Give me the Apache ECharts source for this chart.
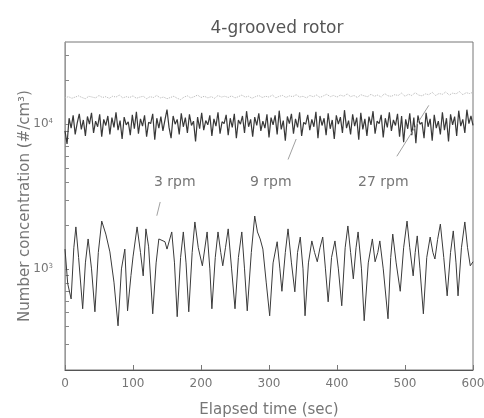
<!DOCTYPE html>
<html>
<head>
<meta charset="utf-8">
<script src="https://cdn.jsdelivr.net/npm/echarts@6/dist/echarts.min.js"></script>
<style>
  html, body { margin: 0; padding: 0; background: #fff; }
  #chart { width: 484px; height: 418px; }
</style>
</head>
<body>
<div id="chart"></div>
<script>
// 3 rpm: read at turning points (sec, #/cm3)
const rpm3Time = [0, 4, 9, 13, 16, 20, 26, 30, 34, 39, 44, 49, 54, 60, 66, 72, 78, 83, 88, 92,
  97, 100, 106, 111, 115, 119, 123, 129, 134, 138, 147, 150, 157, 161, 165, 170, 174, 178, 182, 187,
  191, 196, 202, 209, 213, 216, 221, 225, 229, 232, 236, 240, 245, 250, 255, 260, 264, 268, 274, 279,
  283, 287, 291, 296, 301, 306, 312, 316, 319, 324, 328, 333, 338, 342, 346, 350, 353, 358, 363, 367,
  371, 375, 379, 383, 387, 392, 397, 402, 407, 412, 416, 420, 424, 428, 431, 436, 440, 446, 452, 456,
  460, 463, 468, 475, 479, 482, 487, 493, 498, 503, 507, 512, 515, 518, 522, 527, 532, 537, 541, 544,
  548, 552, 557, 562, 567, 571, 575, 578, 583, 588, 592, 596, 600]
const rpm3Values = [1370, 790, 620, 1400, 1950, 1200, 530, 1100, 1610, 1000, 505, 1300, 2140, 1740, 1310, 810, 404, 1000, 1370, 513,
  900, 1210, 1950, 1300, 895, 1890, 1420, 489, 1100, 1610, 1540, 1370, 1800, 1100, 467, 1200, 1800, 1100, 505, 1300,
  2110, 1400, 1050, 1800, 1000, 530, 1200, 1800, 1300, 1050, 1400, 1890, 1000, 530, 1200, 1800, 1000, 513, 1300, 2320,
  1800, 1610, 1370, 800, 474, 1100, 1540, 1000, 700, 1300, 1890, 1100, 694, 1300, 1660, 1000, 474, 1100, 1560, 1300,
  1120, 1400, 1660, 1000, 592, 1200, 1560, 1000, 556, 1400, 1980, 1300, 853, 1400, 1800, 1000, 438, 1100, 1610, 1120,
  1300, 1560, 1000, 452, 1200, 1740, 1100, 700, 1400, 2140, 1400, 895, 1300, 1690, 1000, 489, 1200, 1660, 1300, 1170,
  1600, 2040, 1200, 651, 1300, 1830, 1100, 651, 1400, 2110, 1400, 1050, 1120]

// 9 rpm: sampled every 3 sec
const rpm9Step = 3
const rpm9Values = [
  9000, 7300, 11000, 9400, 11500, 8500, 10200, 11800, 9200, 10700, 8300, 11300, 10000, 12000, 8700, 10500, 9600, 11700, 8200, 10800,
  9800, 11400, 8500, 11100, 9500, 12100, 9100, 10600, 7900, 11200, 9900, 10400, 8400, 11600, 9300, 12200, 8600, 10900, 9700, 11500,
  8200, 10300, 10100, 11800, 7800, 11000, 9400, 11300, 9000, 10700, 12600, 9500, 8000, 11400, 10000, 10800, 8500, 11900, 9600, 11100,
  8700, 11700, 9800, 10500, 7600, 11200, 9300, 12000, 9100, 10600, 9900, 11500, 8300, 10900, 9700, 12100, 8600, 10400, 10100, 11600,
  8400, 11000, 9500, 11800, 8000, 10700, 10000, 11400, 8700, 12300, 9600, 10800, 8200, 11200, 9800, 11900, 9000, 10500, 9400, 11700,
  8100, 11100, 9900, 11500, 8500, 12400, 9200, 10600, 7700, 11300, 10100, 11800, 8600, 10900, 9500, 12100, 8300, 10300, 10000, 11600,
  9100, 10800, 9600, 12200, 8000, 11400, 9800, 11000, 8400, 11900, 9300, 10700, 7900, 11500, 10000, 11200, 8700, 12500, 9400, 10600,
  8500, 11700, 9700, 11100, 7800, 12000, 9200, 10900, 8300, 11300, 9900, 12300, 8600, 10500, 10100, 11600, 8100, 11000, 9500, 12100,
  9000, 10700, 9800, 11800, 8200, 11400, 7500, 10800, 9300, 11900, 8400, 11100, 7400, 11500, 10000, 10300, 8000, 12000, 9600, 10900,
  7700, 11600, 9400, 10500, 8500, 12100, 9100, 11000, 7600, 11700, 9900, 11300, 8300, 12400, 9700, 10800, 8700, 12600, 10100, 11400,
  9800]

// 27 rpm: sampled every 5 sec
const rpm27Step = 5
const rpm27Values = [
  15200, 15500, 15100, 15400, 15700, 15300, 15000, 15600, 15400, 15200, 15800, 15300, 15500, 15100, 15600, 15400, 15900, 15200, 15500, 15300,
  15700, 15100, 15400, 15600, 15000, 15500, 15300, 15800, 15200, 15400, 15000, 15300, 15600, 15100, 14800, 15400, 15700, 15200, 15500, 15900,
  15300, 15600, 15200, 15500, 15100, 15800, 15400, 15600, 15300, 15700, 15200, 15500, 15900, 15400, 15600, 15100, 15500, 15800, 15300, 15600,
  15400, 15900, 15200, 15600, 15800, 15300, 15700, 15500, 16000, 15400, 15600, 15200, 15800, 15500, 15900, 15300, 15700, 16100, 15500, 15800,
  15400, 15900, 15600, 16200, 15500, 15800, 15300, 16000, 15700, 15500, 16100, 15600, 15900, 15400, 16300, 15700, 15600, 16000, 15800, 16400,
  15600, 16100, 15800, 16500, 15900, 15700, 16200, 16000, 16600, 15800, 16300, 16100, 16700, 15900, 16400, 16200, 16800, 16000, 16500, 16300,
  16600]

const xTicks = [0, 100, 200, 300, 400, 500, 600]
const yLabelValues = [1000, 10000]
const yTickValues = [300, 400, 500, 600, 700, 800, 900, 1000, 2000, 3000, 4000, 5000, 6000, 7000, 8000, 9000, 10000, 20000, 30000]

// leader lines from the labels to the curves [sec, value]
const leader3 = [[140, 2900], [135, 2330]]
const leader9 = [[328, 5700], [340, 7900]]
const leader27 = [[488, 6000], [535, 13500]]

const FONT = 'DejaVu Sans, Liberation Sans, sans-serif'
const TEXT_GREY = '#767676'

const chart = echarts.init(document.getElementById('chart'))

const leaderLine = (pts) => ({
  silent: true,
  symbol: 'none',
  label: {show: false},
  lineStyle: {color: '#a0a0a0', width: 1, type: 'solid'},
  data: [[{coord: pts[0]}, {coord: pts[1]}]]
})

const rpmLabel = (text, left) => ({
  type: 'text', left: left, top: 175,
  style: {text: text, fontSize: 14, fill: TEXT_GREY, fontFamily: FONT}
})

const option = {
  animation: false,
  textStyle: {fontFamily: FONT},
  title: {
    text: '4-grooved rotor',
    left: 272,
    top: 15,
    textAlign: 'center',
    textStyle: {fontSize: 17, fontWeight: 'normal', color: '#555', fontFamily: FONT}
  },
  grid: {
    left: 65, right: 11, top: 42, bottom: 48,
    show: true, borderColor: '#777', borderWidth: 1,
    outerBoundsMode: 'none'
  },
  xAxis: {
    type: 'value',
    min: 0, max: 600, interval: 100,
    name: 'Elapsed time (sec)',
    nameLocation: 'middle',
    nameGap: 33,
    nameMoveOverlap: false,
    nameTextStyle: {fontSize: 15, color: TEXT_GREY, fontFamily: FONT},
    axisLine: {show: true, lineStyle: {color: '#555'}},
    axisTick: {show: true, inside: true, length: 5, lineStyle: {color: '#777'}},
    axisLabel: {fontSize: 12, color: TEXT_GREY, margin: 8, fontFamily: FONT,
      formatter: v => xTicks.includes(v) ? String(v) : ''},
    splitLine: {show: false}
  },
  yAxis: {
    type: 'log',
    min: 200, max: 37000,
    name: 'Number concentration (#/cm³)',
    nameLocation: 'middle',
    nameGap: 32,
    nameMoveOverlap: false,
    nameTextStyle: {fontSize: 15, color: TEXT_GREY, fontFamily: FONT},
    axisLine: {show: true, lineStyle: {color: '#999'}},
    axisTick: {show: true, inside: true, length: 4, customValues: yTickValues, lineStyle: {color: '#888'}},
    axisLabel: {
      customValues: yLabelValues,
      margin: 12,
      formatter: v => '{b|10}{s|' + Math.round(Math.log10(v)) + '}',
      rich: {
        b: {fontSize: 12, color: TEXT_GREY, fontFamily: FONT},
        s: {fontSize: 7, color: TEXT_GREY, verticalAlign: 'top', padding: [0, 0, 6, 0], fontFamily: FONT}
      }
    },
    splitLine: {show: false},
    minorTick: {show: false}
  },
  graphic: [
    rpmLabel('3 rpm', 154),
    rpmLabel('9 rpm', 250),
    rpmLabel('27 rpm', 358)
  ],
  series: [
    {
      name: '27 rpm',
      type: 'line',
      showSymbol: false,
      lineStyle: {color: '#b5b5b5', width: 1, type: 'dotted'},
      data: rpm27Values.map((v, i) => [i * rpm27Step, v]),
      markLine: leaderLine(leader27)
    },
    {
      name: '9 rpm',
      type: 'line',
      showSymbol: false,
      lineStyle: {color: '#383838', width: 1.2},
      data: rpm9Values.map((v, i) => [i * rpm9Step, v]),
      markLine: leaderLine(leader9)
    },
    {
      name: '3 rpm',
      type: 'line',
      showSymbol: false,
      lineStyle: {color: '#3a3a3a', width: 1},
      data: rpm3Values.map((v, i) => [rpm3Time[i], v]),
      markLine: leaderLine(leader3)
    }
  ]
}

chart.setOption(option)
</script>
</body>
</html>
